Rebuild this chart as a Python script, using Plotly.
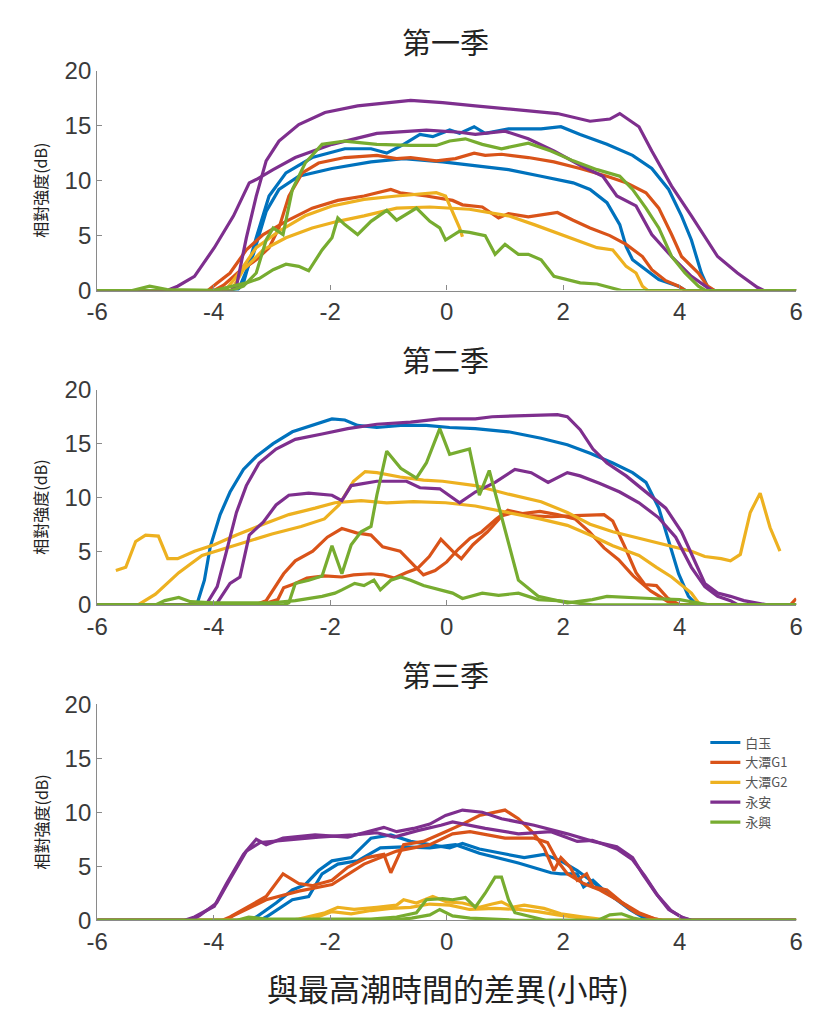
import plotly.graph_objects as go

# ---------------- data (hours from high tide, relative intensity dB) ----------------
STATIONS = ["白玉", "大潭G1", "大潭G2", "永安", "永興"]
COLORS = ["#0072BD", "#D95319", "#EDB120", "#7E2F8E", "#77AC30"]
TITLES = ["第一季", "第二季", "第三季"]
X_TICKS = [-6, -4, -2, 0, 2, 4, 6]
Y_TICKS = [0, 5, 10, 15, 20]

# ---- Season 1 ----
S1_BLUE_A = [(-6,0),(-3.6,0),(-3.49,0.7),(-3.27,4.8),(-3.05,8.6),(-2.76,10.7),(-2.31,12.1),(-1.75,12.9),(-1.3,12.9),(-1.03,12.5),(-0.74,13.3),(-0.46,14.2),(-0.24,14.0),(0.05,14.6),(0.22,14.3),(0.47,14.9),(0.66,14.3),(1.06,14.7),(1.62,14.7),(1.96,14.9),(2.29,14.2),(2.75,13.3),(3.19,12.3),(3.52,11.1),(3.81,9.2),(4.03,6.8),(4.2,4.6),(4.37,1.6),(4.48,0.3),(4.6,0),(6,0)]
S1_BLUE_B = [(-6,0),(-3.7,0),(-3.55,0.4),(-3.32,3.3),(-3.1,7.2),(-2.88,9.2),(-2.54,10.4),(-1.97,11.1),(-1.3,11.7),(-0.74,12.0),(-0.07,11.7),(0.39,11.4),(1.06,11.0),(1.62,10.4),(2.17,9.8),(2.46,9.2),(2.75,8.0),(2.97,6.0),(3.08,4.0),(3.19,2.8),(3.42,1.9),(3.64,1.0),(3.98,0.4),(4.1,0),(6,0)]
S1_ORANGE_A = [(-6,0),(-4.0,0),(-3.83,0.5),(-3.55,1.8),(-3.27,2.8),(-3.05,3.9),(-2.88,5.7),(-2.71,8.6),(-2.48,10.7),(-2.2,11.6),(-1.75,12.1),(-1.2,12.3),(-0.86,12.0),(-0.62,12.1),(-0.18,11.8),(0.15,12.0),(0.47,12.5),(0.66,12.3),(0.94,12.4),(1.4,12.1),(1.84,11.7),(2.29,11.1),(2.75,10.4),(3.08,9.8),(3.42,8.9),(3.64,7.5),(3.86,5.1),(4.03,3.1),(4.32,1.6),(4.48,0.4),(4.6,0),(6,0)]
S1_ORANGE_B = [(-6,0),(-4.1,0),(-3.94,0.7),(-3.72,1.6),(-3.44,3.7),(-3.15,5.1),(-2.76,6.3),(-2.31,7.5),(-1.87,8.2),(-1.42,8.6),(-0.96,9.2),(-0.8,8.9),(-0.35,8.6),(0.1,8.2),(0.27,7.8),(0.61,7.6),(0.89,6.6),(1.06,7.0),(1.4,6.7),(1.62,6.9),(1.9,7.1),(2.17,6.4),(2.46,5.7),(2.8,5.0),(3.08,4.2),(3.36,3.1),(3.52,1.9),(3.76,0.9),(3.98,0.4),(4.1,0),(6,0)]
S1_YELLOW_A = [(-6,0),(-3.8,0),(-3.61,1.3),(-3.27,3.9),(-2.88,5.4),(-2.43,6.8),(-1.97,7.7),(-1.42,8.3),(-0.86,8.6),(-0.18,8.9),(-0.02,8.6),(0.1,7.2),(0.22,5.7),(0.27,4.9)]
S1_YELLOW_B = [(-6,0),(-3.7,0),(-3.49,1.9),(-3.15,3.7),(-2.76,4.8),(-2.31,5.7),(-1.87,6.3),(-1.42,6.8),(-0.86,7.5),(-0.29,7.6),(0.39,7.4),(1.06,6.8),(1.5,6.0),(1.96,5.1),(2.29,4.4),(2.58,3.9),(2.85,3.7),(3.08,2.2),(3.25,1.6),(3.36,0.4),(3.45,0),(6,0)]
S1_PURPLE_A = [(-6,0),(-3.7,0),(-3.61,0.4),(-3.44,4.8),(-3.27,8.6),(-3.1,11.8),(-2.88,13.6),(-2.54,15.1),(-2.09,16.2),(-1.53,16.8),(-0.62,17.3),(-0.07,17.1),(0.49,16.8),(1.33,16.4),(1.9,16.1),(2.46,15.4),(2.8,15.6),(2.97,16.1),(3.3,14.9),(3.52,12.7),(3.86,9.5),(4.2,6.8),(4.65,3.1),(4.99,1.6),(5.33,0.3),(5.45,0),(6,0)]
S1_PURPLE_B = [(-6,0),(-4.8,0),(-4.62,0.4),(-4.33,1.3),(-3.99,3.9),(-3.66,6.8),(-3.39,9.8),(-3.27,10.1),(-2.98,11.0),(-2.6,12.1),(-1.97,13.3),(-1.2,14.3),(-0.35,14.6),(0.22,14.4),(0.49,14.2),(1.0,14.5),(1.4,13.8),(1.84,12.7),(2.29,11.4),(2.68,10.4),(2.92,8.6),(3.25,7.7),(3.52,5.1),(3.86,3.1),(4.2,1.3),(4.43,0.4),(4.55,0),(6,0)]
S1_GREEN_A = [(-6,0),(-5.4,0),(-5.1,0.4),(-4.8,0.1),(-3.7,0),(-3.49,0.4),(-3.27,1.6),(-3.1,4.6),(-2.98,5.7),(-2.81,5.1),(-2.65,9.2),(-2.43,11.6),(-2.14,13.3),(-1.75,13.6),(-1.2,13.3),(-0.62,13.2),(-0.18,13.2),(0.05,13.6),(0.32,13.8),(0.61,13.3),(0.94,12.9),(1.4,13.4),(1.79,12.7),(2.17,11.8),(2.58,11.0),(2.97,10.4),(3.19,9.2),(3.42,7.5),(3.64,5.7),(3.86,3.1),(4.09,1.6),(4.32,0.4),(4.45,0),(6,0)]
S1_GREEN_B = [(-6,0),(-4.0,0),(-3.44,0.7),(-3.22,1.1),(-2.98,1.9),(-2.76,2.4),(-2.54,2.2),(-2.37,1.8),(-2.14,3.7),(-1.97,4.8),(-1.87,6.6),(-1.75,6.0),(-1.53,5.1),(-1.3,6.3),(-1.03,7.3),(-0.86,6.4),(-0.52,7.5),(-0.29,6.3),(-0.12,5.7),(-0.02,4.6),(0.22,5.4),(0.39,5.3),(0.66,5.0),(0.83,3.3),(1.0,4.2),(1.23,3.3),(1.4,3.3),(1.62,2.8),(1.84,1.3),(2.07,1.0),(2.29,0.7),(2.58,0.6),(2.85,0.2),(3.0,0),(6,0)]

# ---- Season 2 ----
S2_BLUE_A = [(-6,0),(-4.35,0),(-4.28,0.2),(-4.16,2.3),(-4.06,5.4),(-3.89,8.4),(-3.72,10.5),(-3.49,12.6),(-3.27,13.8),(-2.98,15.0),(-2.65,16.1),(-2.31,16.7),(-1.97,17.3),(-1.75,17.2),(-1.53,16.7),(-1.2,16.5),(-0.79,16.7),(-0.35,16.7),(0.05,16.5),(0.49,16.4),(1.06,16.1),(1.62,15.5),(2.07,14.9),(2.46,14.1),(2.85,13.2),(3.19,12.3),(3.42,11.4),(3.64,9.0),(3.81,5.9),(3.98,2.9),(4.15,0.8),(4.26,0.2),(4.35,0),(6,0)]
S2_ORANGE_A = [(-6,0),(-3.3,0),(-3.1,0.4),(-2.95,1.7),(-2.8,2.9),(-2.6,4.1),(-2.3,5.0),(-2.05,6.3),(-1.8,7.1),(-1.55,6.7),(-1.3,6.5),(-1.1,5.4),(-0.8,5.0),(-0.55,3.6),(-0.4,2.8),(-0.2,3.2),(0.0,4.0),(0.2,5.2),(0.4,6.2),(0.6,6.8),(0.85,8.0),(1.05,8.8),(1.3,8.5),(1.6,8.7),(1.9,8.4),(2.2,8.0),(2.45,6.8),(2.7,5.3),(2.95,4.2),(3.2,2.7),(3.5,1.3),(3.8,0.3),(4.0,0),(5.9,0),(6,0.6)]
S2_ORANGE_B = [(-6,0),(-3.2,0),(-2.9,0.5),(-2.8,1.6),(-2.6,2.0),(-2.4,2.5),(-2.1,2.7),(-1.8,2.6),(-1.6,2.8),(-1.3,2.9),(-1.1,2.8),(-0.9,2.5),(-0.7,3.0),(-0.5,3.4),(-0.3,4.5),(-0.1,6.1),(0.1,5.0),(0.25,4.3),(0.45,5.6),(0.7,6.8),(0.95,8.3),(1.15,8.6),(1.4,8.3),(1.8,8.2),(2.2,8.3),(2.5,8.4),(2.7,8.4),(2.85,7.8),(3.05,5.5),(3.25,3.0),(3.4,1.9),(3.6,1.8),(3.8,0.6),(4.0,0),(6,0)]
S2_YELLOW_A = [(-5.68,3.2),(-5.51,3.5),(-5.34,5.9),(-5.17,6.5),(-4.95,6.4),(-4.79,4.3),(-4.62,4.3),(-4.33,5.0),(-3.99,5.6),(-3.61,6.5),(-3.15,7.5),(-2.71,8.4),(-2.26,9.0),(-1.92,9.5),(-1.47,9.7),(-1.03,9.5),(-0.57,9.6),(-0.02,9.5),(0.49,9.2),(1.06,8.6),(1.6,8.0),(2.07,7.4),(2.46,6.5),(2.85,5.5),(3.3,4.6),(3.6,3.5),(3.86,2.6),(4.2,1.1),(4.32,0.2),(4.4,0),(6,0)]
S2_YELLOW_B = [(-6,0),(-5.3,0),(-5.0,1.0),(-4.6,3.0),(-4.2,4.6),(-3.6,5.6),(-3.0,6.6),(-2.5,7.3),(-2.1,8.0),(-1.85,9.3),(-1.6,11.5),(-1.4,12.4),(-1.2,12.3),(-0.8,11.9),(-0.4,11.6),(-0.07,11.5),(0.49,11.1),(1.06,10.3),(1.62,9.6),(2.07,8.6),(2.46,7.5),(2.85,6.8),(3.3,6.2),(3.86,5.5),(4.2,5.0),(4.43,4.5),(4.71,4.3),(4.87,4.1),(5.04,4.7),(5.21,8.6),(5.38,10.4),(5.55,7.2),(5.72,5.0)]
S2_PURPLE_A = [(-6,0),(-4.2,0),(-4.11,0.2),(-3.94,1.7),(-3.78,5.0),(-3.61,8.6),(-3.44,11.1),(-3.22,13.2),(-2.93,14.5),(-2.6,15.4),(-2.14,15.9),(-1.7,16.4),(-1.2,16.8),(-0.62,17.0),(-0.12,17.3),(0.49,17.3),(0.78,17.5),(1.33,17.6),(1.9,17.7),(2.07,17.5),(2.29,16.3),(2.51,14.5),(2.75,13.2),(3.08,12.0),(3.42,10.5),(3.76,9.0),(4.03,6.8),(4.26,4.1),(4.43,2.0),(4.65,1.1),(4.87,0.8),(5.1,0.4),(5.33,0.2),(5.5,0),(6,0)]
S2_PURPLE_B = [(-6,0),(-4.0,0),(-3.94,0.2),(-3.72,2.0),(-3.55,2.6),(-3.39,6.5),(-3.15,7.7),(-2.93,9.3),(-2.71,10.2),(-2.37,10.4),(-1.97,10.2),(-1.8,9.7),(-1.64,11.1),(-1.2,11.5),(-0.69,11.5),(-0.46,10.9),(-0.12,10.8),(0.1,10.0),(0.22,9.5),(0.49,10.5),(0.83,11.4),(1.17,12.6),(1.45,12.3),(1.74,11.4),(2.07,12.3),(2.29,12.0),(2.63,11.3),(2.97,10.5),(3.3,9.5),(3.64,8.1),(3.93,6.3),(4.2,3.5),(4.43,1.7),(4.65,0.8),(4.87,0.4),(5.0,0),(6,0)]
S2_GREEN_A = [(-6,0),(-2.8,0),(-2.71,0.2),(-2.6,2.0),(-2.37,2.3),(-2.14,2.7),(-1.97,5.5),(-1.8,2.9),(-1.64,5.6),(-1.47,6.8),(-1.3,7.3),(-1.2,10.2),(-1.03,14.3),(-0.79,12.7),(-0.52,11.8),(-0.35,13.2),(-0.12,16.4),(0.05,14.0),(0.39,14.5),(0.56,10.2),(0.73,12.5),(0.89,9.3),(1.23,2.3),(1.57,0.8),(2.07,0.2),(2.5,0.5),(2.75,0.8),(3.5,0.6),(4.0,0.5),(4.2,0.3),(4.5,0),(6,0)]
S2_GREEN_B = [(-6,0),(-5.0,0),(-4.84,0.4),(-4.6,0.7),(-4.4,0.3),(-4.0,0.2),(-3.0,0.2),(-2.6,0.4),(-2.14,0.8),(-1.92,1.1),(-1.8,1.4),(-1.58,2.0),(-1.42,1.8),(-1.25,2.3),(-1.14,1.4),(-0.96,2.3),(-0.79,2.6),(-0.62,2.3),(-0.4,1.8),(-0.12,1.4),(0.1,1.1),(0.27,0.6),(0.61,1.1),(0.89,0.9),(1.23,1.1),(1.57,0.5),(1.9,0.4),(2.2,0.2),(2.5,0),(6,0)]

# ---- Season 3 ----
S3_BLUE_A = [(-6,0),(-3.4,0),(-3.27,0.3),(-2.93,1.6),(-2.65,2.8),(-2.43,3.3),(-2.2,4.6),(-1.97,5.5),(-1.64,5.8),(-1.3,7.6),(-0.96,7.9),(-0.62,7.3),(-0.29,7.0),(0.05,6.7),(0.27,7.1),(0.56,6.6),(0.94,6.2),(1.33,5.8),(1.67,6.1),(1.96,5.5),(2.24,4.6),(2.46,3.7),(2.68,2.8),(2.92,1.9),(3.14,1.0),(3.36,0.3),(3.5,0),(6,0)]
S3_BLUE_B = [(-6,0),(-3.2,0),(-3.1,0.3),(-2.65,1.9),(-2.37,2.2),(-2.14,4.3),(-1.87,5.2),(-1.53,5.5),(-1.14,6.7),(-0.74,6.8),(-0.29,6.7),(0.15,7.0),(0.56,6.2),(1.23,5.3),(1.79,4.4),(1.96,4.3),(2.24,4.3),(2.35,3.1),(2.51,3.7),(2.75,2.5),(3.02,1.6),(3.25,0.7),(3.47,0.1),(3.6,0),(6,0)]
S3_ORANGE_A = [(-6,0),(-3.85,0),(-3.72,0.3),(-3.39,1.3),(-3.1,2.2),(-2.81,4.3),(-2.54,3.4),(-2.31,3.2),(-1.97,3.7),(-1.7,4.9),(-1.37,5.8),(-1.08,6.1),(-0.96,4.4),(-0.74,7.0),(-0.4,7.3),(-0.02,8.2),(0.27,8.9),(0.56,9.7),(1.0,10.2),(1.23,9.4),(1.5,8.0),(1.67,6.7),(1.84,4.6),(1.96,5.8),(2.12,4.9),(2.24,3.7),(2.4,4.3),(2.51,3.1),(2.75,2.8),(3.02,1.6),(3.3,0.7),(3.59,0.1),(3.7,0),(6,0)]
S3_ORANGE_B = [(-6,0),(-3.8,0),(-3.67,0.4),(-3.1,1.9),(-2.54,2.7),(-1.97,3.3),(-1.42,5.2),(-0.86,6.4),(-0.29,7.0),(0.1,8.0),(0.4,8.2),(0.7,7.9),(1.0,7.6),(1.5,7.6),(1.73,7.2),(1.9,5.5),(2.07,4.3),(2.35,3.4),(2.63,2.8),(2.92,1.9),(3.25,0.7),(3.59,0.1),(3.7,0),(6,0)]
S3_YELLOW_A = [(-6,0),(-2.7,0),(-2.54,0.1),(-2.09,0.7),(-1.87,1.2),(-1.59,1.0),(-1.2,1.2),(-0.86,1.4),(-0.74,1.9),(-0.52,1.6),(-0.24,2.2),(0.0,1.7),(0.27,1.6),(0.56,1.2),(0.78,1.5),(0.94,1.7),(1.12,1.2),(1.33,1.4),(1.67,1.1),(1.96,0.6),(2.35,0.3),(2.68,0.1),(2.8,0),(6,0)]
S3_YELLOW_B = [(-6,0),(-2.4,0),(-2.26,0.2),(-1.97,0.8),(-1.64,0.6),(-1.3,0.9),(-0.96,1.1),(-0.62,1.2),(-0.29,1.5),(0.05,1.4),(0.39,1.0),(0.83,1.1),(1.23,1.0),(1.56,0.8),(1.9,0.5),(2.35,0.2),(2.6,0),(6,0)]
S3_PURPLE_A = [(-6,0),(-4.5,0),(-4.33,0.3),(-3.99,1.3),(-3.78,3.4),(-3.49,6.1),(-3.27,7.5),(-3.1,7.0),(-2.81,7.6),(-2.26,7.9),(-1.7,7.7),(-1.37,8.2),(-1.08,8.6),(-0.86,8.2),(-0.57,8.5),(-0.29,8.9),(-0.02,9.7),(0.27,10.2),(0.61,10.0),(0.94,9.4),(1.5,8.8),(2.07,8.0),(2.51,7.3),(2.92,6.8),(3.19,5.8),(3.36,4.3),(3.59,2.5),(3.81,1.0),(4.03,0.3),(4.2,0),(6,0)]
S3_PURPLE_B = [(-6,0),(-4.4,0),(-4.25,0.4),(-3.95,1.6),(-3.72,3.8),(-3.44,6.4),(-3.2,7.2),(-2.8,7.4),(-2.2,7.7),(-1.6,7.9),(-1.2,8.1),(-0.9,7.7),(-0.5,8.3),(-0.1,8.8),(0.1,9.1),(0.66,8.5),(1.23,8.0),(1.79,8.2),(2.24,7.3),(2.5,7.4),(2.92,6.6),(3.19,5.6),(3.4,4.1),(3.62,2.3),(3.85,0.9),(4.06,0.2),(4.2,0),(6,0)]
S3_GREEN_A = [(-6,0),(-3.6,0),(-3.4,0.3),(-3.1,0.1),(-1.3,0.1),(-0.86,0.3),(-0.52,0.7),(-0.35,1.9),(-0.07,2.0),(0.1,1.9),(0.32,2.1),(0.49,1.2),(0.66,2.5),(0.83,4.0),(0.94,4.0),(1.06,1.9),(1.17,0.7),(1.45,0.3),(1.7,0),(2.6,0),(2.8,0.5),(3.0,0.6),(3.2,0.2),(3.4,0),(6,0)]
S3_GREEN_B = [(-6,0),(-1.0,0),(-0.6,0.2),(-0.29,0.5),(-0.12,1.0),(0.1,0.4),(0.4,0.2),(0.8,0.1),(1.2,0),(6,0)]

SEASONS = [
    [[S1_BLUE_A, S1_BLUE_B], [S1_ORANGE_A, S1_ORANGE_B], [S1_YELLOW_A, S1_YELLOW_B], [S1_PURPLE_A, S1_PURPLE_B], [S1_GREEN_A, S1_GREEN_B]],
    [[S2_BLUE_A], [S2_ORANGE_A, S2_ORANGE_B], [S2_YELLOW_A, S2_YELLOW_B], [S2_PURPLE_A, S2_PURPLE_B], [S2_GREEN_A, S2_GREEN_B]],
    [[S3_BLUE_A, S3_BLUE_B], [S3_ORANGE_A, S3_ORANGE_B], [S3_YELLOW_A, S3_YELLOW_B], [S3_PURPLE_A, S3_PURPLE_B], [S3_GREEN_A, S3_GREEN_B]],
]

# ---------------- layout geometry ----------------
PAGE_W, PAGE_H = 823, 1023
BODY = 8                      # default page margin around the plot div
W, H = PAGE_W - 2 * BODY, PAGE_H - 2 * BODY
PLOT_X = (88, 803)
PANELS_PX = [(58, 284), (386, 607), (709, 931)]   # page rows of y=20 and y=0
TITLE_Y_PX = [28, 354, 678]

def fx(px):
    return (px - BODY) / W

def fy(py):
    return (H - (py - BODY)) / H

fig = go.Figure()

for p, season in enumerate(SEASONS):
    axn = "" if p == 0 else str(p + 1)
    for s, lines in enumerate(season):
        for k, line in enumerate(lines):
            xs = [pt[0] for pt in line]
            ys = [pt[1] for pt in line]
            fig.add_trace(go.Scatter(
                x=xs, y=ys, mode="lines",
                line=dict(color=COLORS[s], width=3.2),
                name=STATIONS[s], legendgroup=STATIONS[s],
                showlegend=(p == 2 and k == 0),
                xaxis="x" + axn, yaxis="y" + axn,
                hoverinfo="skip",
            ))

TICKFONT = dict(family="Liberation Sans, Arial", size=24, color="#3a3a3a")
layout = dict(
    width=W, height=H,
    margin=dict(l=0, r=0, t=0, b=0),
    paper_bgcolor="white", plot_bgcolor="white",
    showlegend=True,
    legend=dict(
        x=fx(710), y=fy(733), xanchor="left", yanchor="top",
        font=dict(family="Noto Sans CJK TC", size=13, color="#555555"),
        bgcolor="rgba(0,0,0,0)", itemwidth=30, tracegroupgap=0,
    ),
)
for p in range(3):
    axn = "" if p == 0 else str(p + 1)
    top, bot = PANELS_PX[p]
    layout["xaxis" + axn] = dict(
        domain=[fx(PLOT_X[0]), fx(PLOT_X[1])], anchor="y" + axn,
        range=[-6, 6], tickvals=X_TICKS, ticktext=[str(v) for v in X_TICKS],
        showline=True, linecolor="#8a8a8a", linewidth=1.2, mirror=False,
        ticks="inside", ticklen=5, tickcolor="#8a8a8a",
        showgrid=False, zeroline=False, tickfont=TICKFONT,
    )
    layout["yaxis" + axn] = dict(
        domain=[fy(bot), fy(top)], anchor="x" + axn,
        range=[0, 20], tickvals=Y_TICKS, ticktext=[str(v) for v in Y_TICKS],
        showline=True, linecolor="#8a8a8a", linewidth=1.2, mirror=False,
        ticks="inside", ticklen=5, tickcolor="#8a8a8a",
        showgrid=False, zeroline=False, tickfont=TICKFONT,
    )
fig.update_layout(**layout)

annotations = []
for p in range(3):
    annotations.append(dict(
        text=TITLES[p], x=fx(444), y=fy(TITLE_Y_PX[p]), xref="paper", yref="paper",
        xanchor="center", yanchor="middle", showarrow=False,
        font=dict(family="Noto Sans CJK TC", size=29, color="#222222"),
    ))
    top, bot = PANELS_PX[p]
    annotations.append(dict(
        text="相對強度(dB)", x=fx(30), y=fy((top + bot) / 2 + 10), xref="paper", yref="paper",
        xanchor="center", yanchor="middle", showarrow=False, textangle=-90,
        font=dict(family="Noto Sans CJK TC", size=16, color="#222222"),
    ))
annotations.append(dict(
    text="與最高潮時間的差異(小時)", x=fx(447), y=fy(1000), xref="paper", yref="paper",
    xanchor="center", yanchor="middle", showarrow=False,
    font=dict(family="Noto Sans CJK TC", size=31, color="#222222"),
))
fig.update_layout(annotations=annotations)

fig.write_html("out.html")
